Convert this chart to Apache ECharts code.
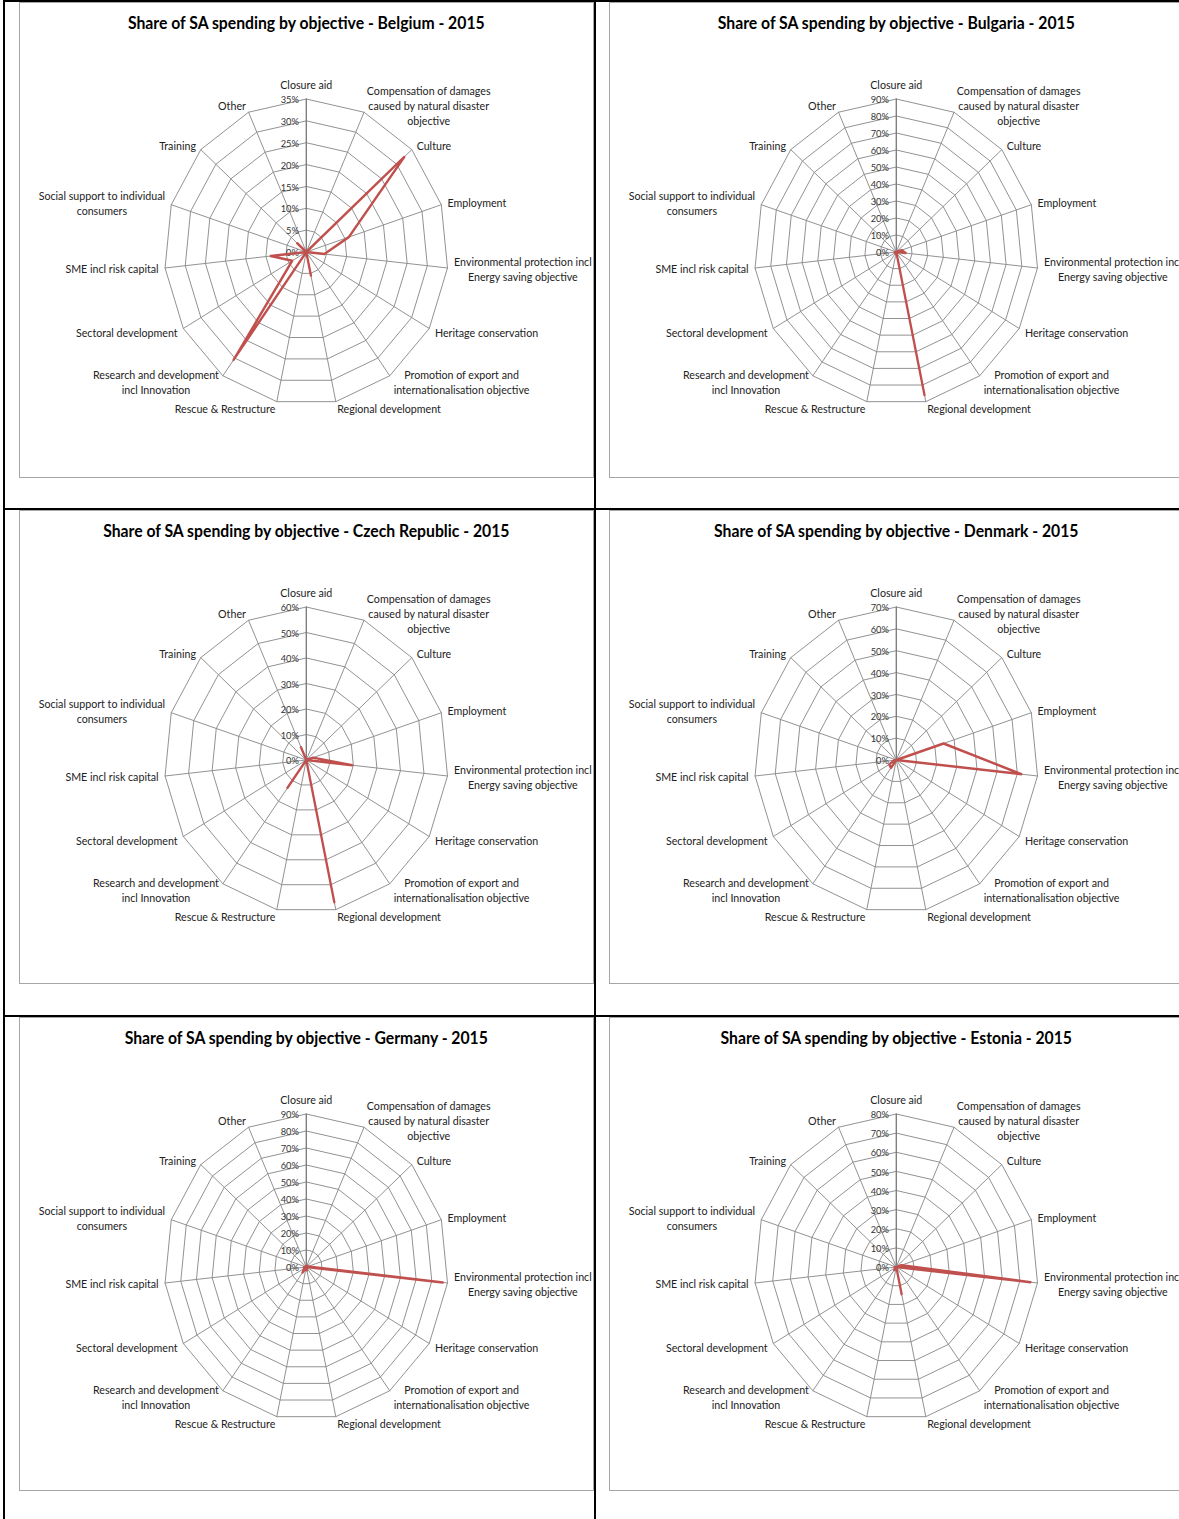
<!DOCTYPE html>
<html><head><meta charset="utf-8">
<script src="https://cdn.jsdelivr.net/npm/echarts@6/dist/echarts.min.js"></script>
<style>
html,body{margin:0;padding:0;background:#fff;overflow:hidden;width:1179px;height:1519px;position:relative}
.bl{position:absolute;background:#000}
.cell{position:absolute;width:575px;border:1px solid #a6a6a6;overflow:hidden;background:#fff;box-sizing:border-box}
.chart{position:absolute;left:0;top:0;transform-origin:0 0;transform:scaleX(0.928)}
</style></head><body>
<div class="bl" style="left:3px;top:0;width:1176px;height:2px"></div>
<div class="bl" style="left:3px;top:0;width:2px;height:1519px"></div>
<div class="bl" style="left:594px;top:0;width:2px;height:1519px"></div>
<div class="bl" style="left:3px;top:508px;width:1176px;height:2px"></div>
<div class="bl" style="left:3px;top:1015px;width:1176px;height:2px"></div>
<div id="cells"></div>
<script>
// ---- data ----
const objectives = [
  'Closure aid',
  'Compensation of damages\ncaused by natural disaster\nobjective',
  'Culture',
  'Employment',
  'Environmental protection incl\nEnergy saving objective',
  'Heritage conservation',
  'Promotion of export and\ninternationalisation objective',
  'Regional development',
  'Rescue & Restructure',
  'Research and development\nincl Innovation',
  'Sectoral development',
  'SME incl risk capital',
  'Social support to individual\nconsumers',
  'Training',
  'Other'
];
const countries = ['Belgium', 'Bulgaria', 'Czech Republic', 'Denmark', 'Germany', 'Estonia'];
const year = '2015';
const axisMax  = [35, 90, 60, 70, 90, 80];
const axisStep = [5, 10, 10, 10, 10, 10];
// shares in %, in the order of objectives
const belgium       = [0, 0, 32.5, 11, 4.5, 0, 0, 5.5, 0, 30.5, 4, 8.8, 0, 3, 0];
const bulgaria      = [0, 0, 0, 3.5, 6, 0, 0, 86, 0, 1, 0, 1, 0, 0, 0];
const czechRepublic = [0, 0, 0, 3, 19.5, 0, 0, 57, 0, 13.5, 0, 0, 0, 0, 5.5];
const denmark       = [0, 0, 0, 24.5, 62, 0, 0, 0, 0, 4.5, 4, 1, 0, 0, 0];
const germany       = [0, 0.5, 1, 1, 87, 0, 0, 2, 0.5, 4, 1.5, 1.5, 0.5, 0.5, 0];
const estonia       = [0, 0, 0, 3, 76, 0, 0, 14.5, 0, 2, 0, 1, 0, 0, 0];
const shares = [belgium, bulgaria, czechRepublic, denmark, germany, estonia];

// ---- layout ----
const colLeft = [19, 609];
const rowTop = [2, 510, 1017];
const rowH = [476, 474, 474];
const SX = 0.928;
const FONT = 'Lato, "Open Sans", sans-serif';
const GRID = '#8e8e8e';

// ECharts radar runs counter-clockwise; the reference runs clockwise from the top
const ccw = arr => [arr[0]].concat(arr.slice(1).reverse());

const cellsEl = document.getElementById('cells');
countries.forEach((country, k) => {
  const col = k % 2, row = Math.floor(k / 2);
  const cell = document.createElement('div');
  cell.className = 'cell';
  cell.style.left = colLeft[col] + 'px';
  cell.style.top = rowTop[row] + 'px';
  cell.style.height = rowH[row] + 'px';
  const ch = document.createElement('div');
  ch.className = 'chart';
  ch.style.width = (573 / SX) + 'px';
  ch.style.height = (rowH[row] - 2) + 'px';
  cell.appendChild(ch);
  cellsEl.appendChild(cell);

  const max = axisMax[k], step = axisStep[k];
  const names = ccw(objectives);
  const indicator = names.map((n, i) => {
    const ind = { name: n, min: 0, max: max };
    if (i === 0) {
      ind.axisLabel = { show: true, formatter: '{value}%', fontFamily: FONT, fontSize: 10, color: '#333', margin: 8 };
      ind.axisLine = { lineStyle: { color: '#777', width: 1.4 } };
    }
    return ind;
  });
  const chart = echarts.init(ch, null, { renderer: 'svg' });
  chart.setOption({
    animation: false,
    title: {
      text: 'Share of SA spending by objective - ' + country + ' - ' + year,
      left: 'center', top: 11, padding: 0,
      textStyle: { fontFamily: FONT, fontSize: 17, fontWeight: 'bold', color: '#000' }
    },
    radar: {
      center: ['50%', 249],
      radius: 153,
      startAngle: 90,
      splitNumber: Math.round(max / step),
      shape: 'polygon',
      nameGap: 7,
      axisName: {
        color: '#222',
        fontFamily: FONT,
        fontSize: 11.5,
        lineHeight: 15,
        formatter: v => v.split('\n').map(l => '{c|' + l + '}').join('\n'),
        rich: { c: { align: 'center', fontFamily: FONT, fontSize: 11.5, lineHeight: 15, color: '#222' } }
      },
      axisLine: { lineStyle: { color: GRID, width: 1 } },
      splitLine: { lineStyle: { color: GRID, width: 1 } },
      splitArea: { show: false },
      axisTick: { show: false },
      axisLabel: { show: false },
      indicator: indicator
    },
    series: [{
      type: 'radar',
      silent: true,
      symbol: 'none',
      lineStyle: { color: '#C0504D', width: 2.5 },
      itemStyle: { color: '#C0504D' },
      data: [{ name: country, value: ccw(shares[k]) }]
    }]
  });
});
</script>
</body></html>
